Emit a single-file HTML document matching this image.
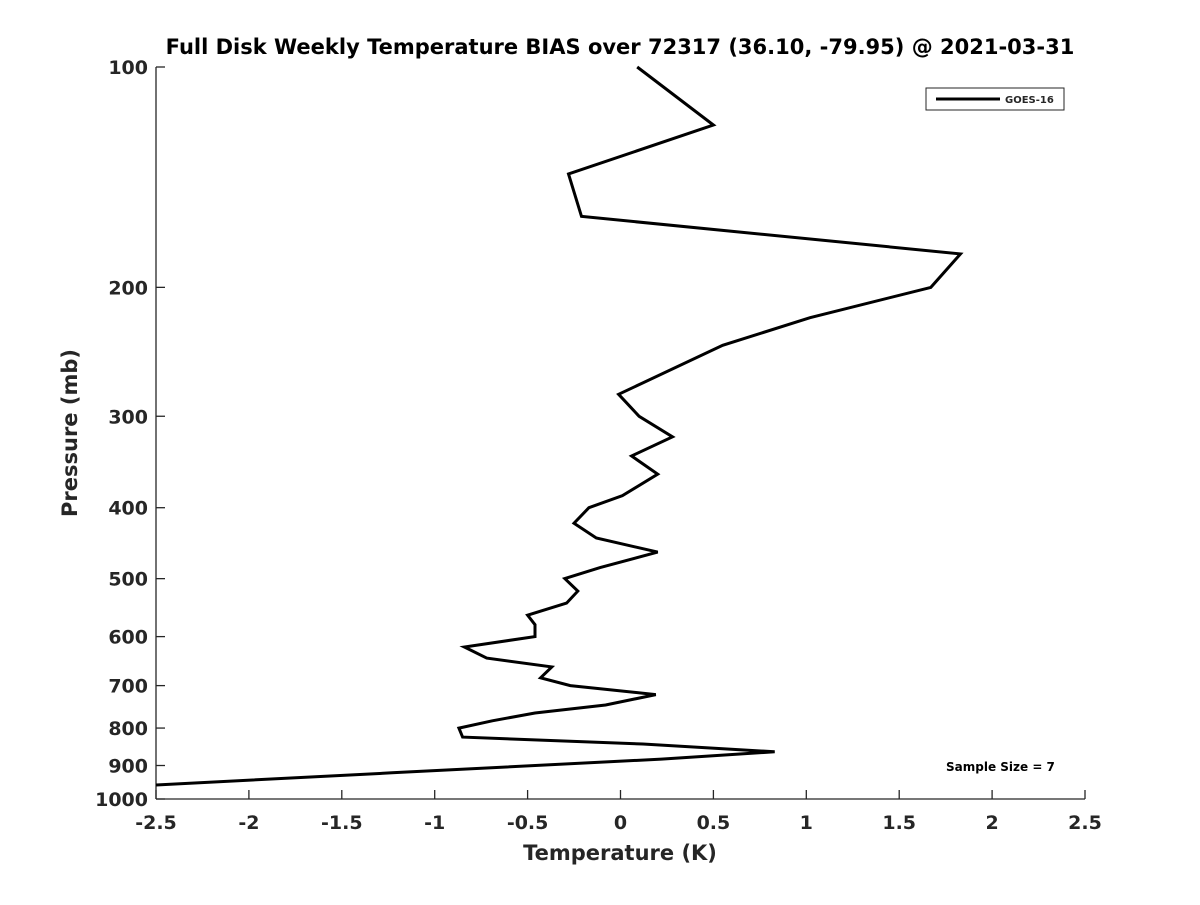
<!DOCTYPE html>
<html><head><meta charset="utf-8"><style>
body{margin:0;background:#fff}
svg text{font-family:"DejaVu Sans","Liberation Sans",sans-serif;font-weight:bold;fill:#262626}
</style></head><body>
<svg id="chart" width="1200" height="900" viewBox="0 0 1200 900" xmlns="http://www.w3.org/2000/svg">
<rect width="1200" height="900" fill="#fff"/>
<text x="620" y="54" text-anchor="middle" font-size="21" style="fill:#000">Full Disk Weekly Temperature BIAS over 72317 (36.10, -79.95) @ 2021-03-31</text>
<g id="axes"></g>
<defs><clipPath id="plotclip"><rect x="156" y="60" width="929" height="739"/></clipPath></defs>
<polyline id="series" fill="none" stroke="#000" stroke-width="3" clip-path="url(#plotclip)"/>
<g>
<rect x="926" y="88" width="138" height="22" fill="#fff" stroke="#262626" stroke-width="1"/>
<line x1="936" y1="99" x2="1000" y2="99" stroke="#000" stroke-width="3"/>
<text x="1005" y="103" font-size="10">GOES-16</text>
</g>
<text x="946" y="771" font-size="12" style="fill:#000">Sample Size = 7</text>
<text x="620" y="860" text-anchor="middle" font-size="21">Temperature (K)</text>
<text transform="translate(77,433) rotate(-90)" text-anchor="middle" font-size="21">Pressure (mb)</text>
</svg>
<script>
const temps=[0.09,0.5,-0.28,-0.21,1.83,1.67,1.02,0.55,-0.01,0.1,0.28,0.06,0.2,0.01,-0.17,-0.25,-0.13,0.2,-0.11,-0.3,-0.23,-0.29,-0.5,-0.46,-0.46,-0.84,-0.72,-0.37,-0.43,-0.27,0.19,-0.08,-0.46,-0.69,-0.87,-0.85,0.12,0.83,0.22,-1.23,-2.5];
const pressures=[100,120,140,160,180,200,220,240,280,300,320,340,360,385,400,420,440,460,483,500,520,540,561,578,600,620,642,660,683,700,720,744,763,782,800,823,841,862,882,921,957];
const xTicks=[-2.5,-2,-1.5,-1,-0.5,0,0.5,1,1.5,2,2.5];
const yTicks=[100,200,300,400,500,600,700,800,900,1000];
const X0=156,X1=1085,Y0=67,Y1=799;
function xs(t){return X0+(t+2.5)/5*(X1-X0);}
function ys(p){return Y0+Math.log10(p/100)*(Y1-Y0);}
const ns="http://www.w3.org/2000/svg";
const ax=document.getElementById('axes');
function mk(tag,attrs){const e=document.createElementNS(ns,tag);for(const k in attrs)e.setAttribute(k,attrs[k]);return e;}
const xl=mk('line',{x1:X0,y1:Y1,x2:X1,y2:Y1,stroke:'#262626','stroke-width':1.3});


ax.appendChild(xl);
const yl=mk('line',{x1:X0,y1:Y0,x2:X0,y2:Y1,stroke:'#262626','stroke-width':1.3});


ax.appendChild(yl);
xTicks.forEach(t=>{const x=xs(t);
const tk=mk('line',{x1:x,y1:Y1,x2:x,y2:Y1-9,stroke:'#262626','stroke-width':1.3});


ax.appendChild(tk);
const tx=mk('text',{x:x,y:829,'text-anchor':'middle','font-size':19});tx.textContent=String(t);


ax.appendChild(tx);});
yTicks.forEach(p=>{const y=ys(p);
const tk=mk('line',{x1:X0,y1:y,x2:X0+9,y2:y,stroke:'#262626','stroke-width':1.3});


ax.appendChild(tk);
const tx=mk('text',{x:148,y:y+7,'text-anchor':'end','font-size':19});tx.textContent=String(p);


ax.appendChild(tx);});
document.getElementById('series').setAttribute('points',temps.map((t,i)=>xs(t).toFixed(1)+','+ys(pressures[i]).toFixed(1)).join(' '));
</script>
</body></html>
